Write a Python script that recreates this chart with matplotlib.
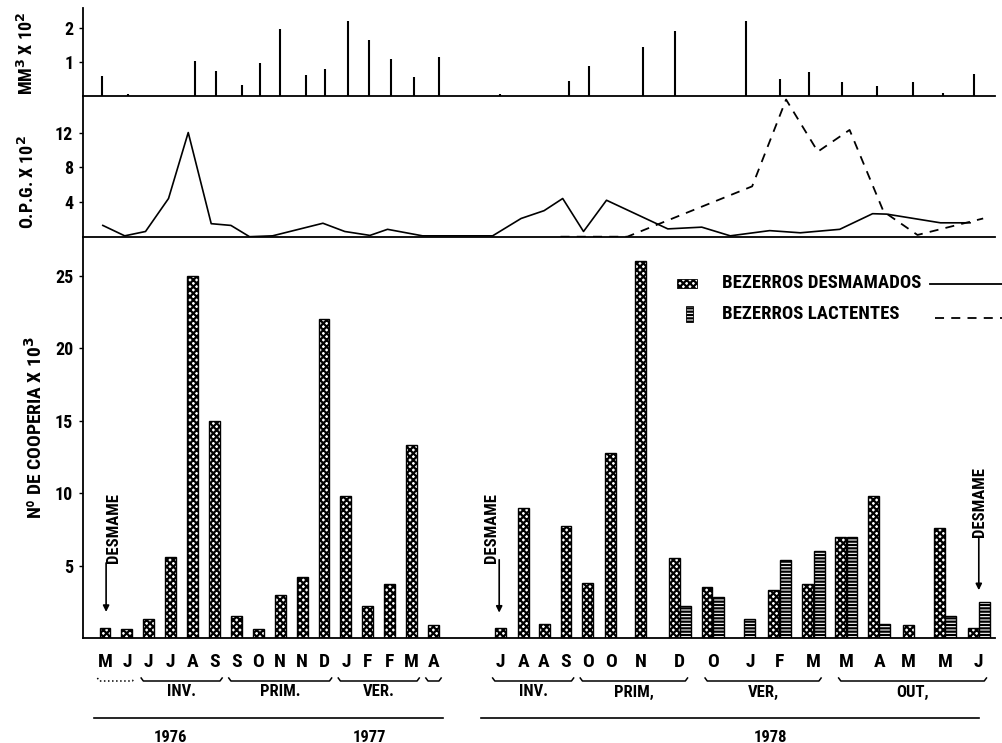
import matplotlib
matplotlib.use("Agg")
import matplotlib.pyplot as plt
from matplotlib import font_manager as fm
from matplotlib.patches import Rectangle
from matplotlib.lines import Line2D

# ---------------- data ----------------
month_labels = ["M", "J", "J", "J", "A", "S", "S", "O", "N", "N", "D", "J", "F", "F", "M", "A",
                "J", "A", "A", "S", "O", "O", "N", "D", "O", "J", "F", "M", "M", "A", "M", "M", "J"]
sample_pos = [0, 1, 2, 3, 4, 5, 6, 7, 8, 9, 10, 11, 12, 13, 14, 15,
              18.05, 19.1, 20.05, 21.05, 22.05, 23.1, 24.45, 26.25, 27.75, 29.45, 30.8,
              32.35, 33.85, 35.35, 36.7, 38.35, 39.9]
desmamados = [0.7, 0.6, 1.3, 5.6, 25.0, 15.0, 1.5, 0.6, 3.0, 4.2, 22.0, 9.8, 2.2, 3.7, 13.3, 0.9,
              0.7, 9.0, 1.0, 7.7, 3.8, 12.8, 26.0, 5.5, 3.5, 0.0, 3.3, 3.7, 7.0, 9.8, 0.9, 7.6, 0.7]
lactentes = [0, 0, 0, 0, 0, 0, 0, 0, 0, 0, 0, 0, 0, 0, 0, 0,
             0, 0, 0, 0, 0, 0, 0, 2.2, 2.8, 1.3, 5.4, 6.0, 7.0, 1.0, 0, 1.5, 2.5]

rain_pos = [-0.15, 1.05, 4.1, 5.05, 6.25, 7.1, 8.0, 9.2, 10.05, 11.1, 12.05, 13.05, 14.1, 15.25,
            18.05, 21.2, 22.1, 24.55, 26.05, 29.25, 30.8, 32.15, 33.65, 35.25, 36.9, 38.25, 39.7]
rain = [0.58, 0.05, 1.02, 0.72, 0.33, 0.96, 1.97, 0.62, 0.78, 2.2, 1.65, 1.08, 0.55, 1.13,
        0.05, 0.45, 0.87, 1.43, 1.9, 2.2, 0.5, 0.7, 0.4, 0.3, 0.42, 0.1, 0.64]

opg_desm_pos = [-0.1, 0.9, 1.85, 2.9, 3.8, 4.85, 5.75, 6.6, 7.65, 9.95, 10.95, 12.1, 12.9, 14.5,
                17.7, 19.0, 20.05, 20.9, 21.85, 22.9, 25.7, 27.25, 28.55, 30.35, 31.75, 33.55,
                35.05, 35.7, 38.15, 39.5]
opg_desm = [1.3, 0.1, 0.6, 4.4, 12.0, 1.5, 1.3, 0.0, 0.1, 1.55, 0.6, 0.15, 0.85, 0.1,
            0.1, 2.1, 3.0, 4.4, 0.6, 4.2, 0.9, 1.1, 0.1, 0.7, 0.45, 0.85, 2.65, 2.6, 1.6, 1.6]
opg_lact_pos = [20.8, 23.85, 29.55, 31.1, 32.55, 34.0, 35.55, 37.1, 40.1]
opg_lact = [0, 0, 5.8, 15.8, 9.8, 12.3, 2.9, 0.2, 2.1]

# season brackets (first, last sample index, label)
seasons = [(0, 1, ""), (2, 5, "INV."), (6, 10, "PRIM."), (11, 14, "VER."), (15, 15, ""),
           (16, 19, "INV."), (20, 23, "PRIM,"), (24, 27, "VER,"), (28, 32, "OUT,")]
years = [("1976", 3.0), ("1977", 12.1), ("1978", 30.4)]

# ---------------- font ----------------
names = {f.name for f in fm.fontManager.ttflist}
FONT = "DejaVu Sans"
for cand in ["Roboto Condensed", "Liberation Sans Narrow", "Open Sans Condensed", "Arial Narrow"]:
    if cand in names:
        FONT = cand
        break
plt.rcParams['font.family'] = [FONT, 'DejaVu Sans']
plt.rcParams['font.weight'] = 'bold'
plt.rcParams['hatch.color'] = 'black'
plt.rcParams['hatch.linewidth'] = 1.6

W, H = 1003, 743
fig = plt.figure(figsize=(W / 100, H / 100), dpi=100)

def fx(px):
    return px / W

def fy(py):
    return 1 - py / H

LEFT, RIGHT = 83, 995
xl = (-1.005, 40.64)

ax_top = fig.add_axes([fx(LEFT), fy(96), (RIGHT - LEFT) / W, 88 / H])
ax_mid = fig.add_axes([fx(LEFT), fy(236.7), (RIGHT - LEFT) / W, 140.7 / H])
ax_bot = fig.add_axes([fx(LEFT), fy(638), (RIGHT - LEFT) / W, 401.3 / H])

for ax in (ax_top, ax_mid, ax_bot):
    ax.set_xlim(*xl)
    ax.spines['top'].set_visible(False)
    ax.spines['right'].set_visible(False)
    ax.spines['left'].set_linewidth(1.3)
    ax.spines['bottom'].set_linewidth(1.3)
    ax.patch.set_alpha(0)
    ax.tick_params(axis='y', direction='out', length=3, width=1, labelsize=13, pad=4)

# top: rainfall
ax_top.vlines(rain_pos, 0, rain, color='black', lw=1.5)
ax_top.set_ylim(0, 88 / 34.2)
ax_top.set_yticks([1, 2])
ax_top.set_xticks([])

# middle: OPG
ax_mid.plot(opg_desm_pos, opg_desm, color='black', lw=1.2)
ax_mid.plot(opg_lact_pos, opg_lact, color='black', lw=1.3, dashes=(5, 4))
ax_mid.set_ylim(0, 140.7 / 8.68)
ax_mid.set_yticks([4, 8, 12])
ax_mid.set_xticks([])

# bottom: bars
BW = 0.5
off = 0.26
for p, d, l in zip(sample_pos, desmamados, lactentes):
    if d > 0 and l > 0:
        xd, xlact = p - off, p + off
    else:
        xd, xlact = p, p
    if d > 0:
        ax_bot.bar(xd, d, width=BW, facecolor='white', edgecolor='black', hatch='xxxxx', lw=1.0)
    if l > 0:
        ax_bot.bar(xlact, l, width=BW, facecolor='white', edgecolor='black', hatch='-----', lw=1.0)
ax_bot.set_ylim(0, 401.3 / 14.49)
ax_bot.set_yticks([5, 10, 15, 20, 25])
ax_bot.set_xticks(sample_pos)
ax_bot.set_xticklabels(month_labels, fontsize=14)
ax_bot.tick_params(axis='x', length=0, pad=11)

# desmame annotations
def desmame(xline, ytop, ybot, xtext, ytext):
    ax_bot.annotate('', xy=(xline, ybot), xytext=(xline, ytop),
                    arrowprops=dict(arrowstyle='-|>', lw=1.2, color='black',
                                    mutation_scale=9, shrinkA=0, shrinkB=0))
    ax_bot.text(xtext, ytext, 'DESMAME', rotation=90, ha='center', va='center', fontsize=12)

desmame(0.05, 5.18, 1.8, 0.37, 7.6)
desmame(18.0, 5.4, 1.75, 17.67, 7.6)
desmame(39.9, 6.97, 3.3, 39.95, 9.4)

# season brackets and years under the axis
tr = ax_bot.get_xaxis_transform()

def ay(py):
    return (638 - py) / 401.3

for i, j, lab in seasons:
    x0 = sample_pos[i] - 0.35
    x1 = sample_pos[j] + 0.35
    ls = ':' if lab == "" and i == 0 else '-'
    ax_bot.add_line(Line2D([x0, x0 + 0.1, x1 - 0.1, x1], [ay(678), ay(681), ay(681), ay(678)],
                           transform=tr, color='black', lw=1.1, ls=ls, clip_on=False))
    if lab:
        ax_bot.text((x0 + x1) / 2, ay(692), lab, transform=tr, ha='center', va='center',
                    fontsize=12, clip_on=False)

ax_bot.add_line(Line2D([sample_pos[0] - 0.5, sample_pos[15] + 0.45], [ay(718), ay(718)],
                       transform=tr, color='black', lw=1.2, clip_on=False))
ax_bot.add_line(Line2D([sample_pos[16] - 0.9, sample_pos[-1]], [ay(718), ay(718)],
                       transform=tr, color='black', lw=1.2, clip_on=False))
for lab, xp in years:
    ax_bot.text(xp, ay(737), lab, transform=tr, ha='center', va='center', fontsize=12, clip_on=False)

# y labels
fig.text(fx(27), fy(53), 'MM$^3$ X 10$^2$', rotation=90, ha='center', va='center', fontsize=13)
fig.text(fx(28), fy(182), 'O.P.G. X 10$^2$', rotation=90, ha='center', va='center', fontsize=13)
fig.text(fx(35), fy(428), 'Nº DE COOPERIA X 10$^3$', rotation=90, ha='center', va='center', fontsize=14)

# legend
fig.patches.append(Rectangle((fx(677), fy(288)), 20 / W, 9 / H, transform=fig.transFigure,
                             facecolor='white', edgecolor='black', hatch='xxxxx', lw=0.6))
fig.patches.append(Rectangle((fx(686), fy(322)), 7 / W, 16 / H, transform=fig.transFigure,
                             facecolor='white', edgecolor='black', hatch='-----', lw=0.6))
fig.text(fx(722), fy(283), 'BEZERROS DESMAMADOS', ha='left', va='center', fontsize=13.5)
fig.text(fx(722), fy(314), 'BEZERROS LACTENTES', ha='left', va='center', fontsize=13.5)
fig.add_artist(Line2D([fx(930), fx(1003)], [fy(284), fy(284)], transform=fig.transFigure,
                      color='black', lw=1.3))
fig.add_artist(Line2D([fx(935), fx(1003)], [fy(318), fy(318)], transform=fig.transFigure,
                      color='black', lw=1.3, dashes=(5, 4)))

fig.savefig('out.png', dpi=100)
